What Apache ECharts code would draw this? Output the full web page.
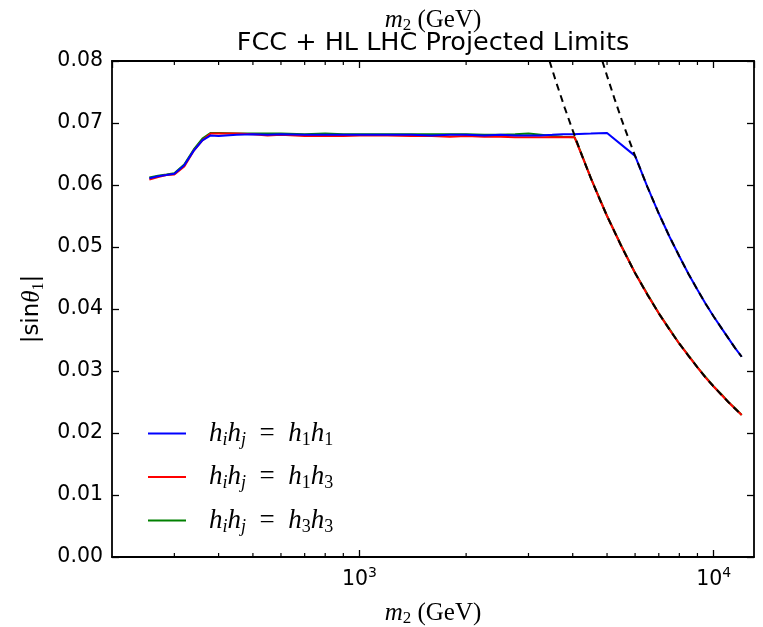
<!DOCTYPE html>
<html><head><meta charset="utf-8">
<script src="https://cdn.jsdelivr.net/npm/echarts@6/dist/echarts.min.js"></script>
<style>html,body{margin:0;padding:0;background:#fff}#c{width:763px;height:627px}</style>
</head><body><div id="c"></div>
<script>
// ---- data ----
const blueM = [255,270,285,300,320,340,360,380,400,450,500,550,600,700,800,900,1000,1200,1400,1600,1800,2000,2250,2500,2750,3000,3250,3500,3750,4000,4500,5000,6000,6500,7000,7500,8000,8500,9000,9500,10000,10500,11000,11500,12000];
const blueV = [0.0611,0.0614,0.0616,0.0618,0.0632,0.0655,0.0672,0.0680,0.0679,0.0681,0.0682,0.0681,0.0682,0.0681,0.0681,0.0681,0.0681,0.0681,0.0681,0.0680,0.0681,0.0681,0.0680,0.0681,0.0680,0.0680,0.0680,0.0681,0.0682,0.0682,0.0683,0.0684,0.0647,0.0597,0.0554,0.0517,0.0485,0.0456,0.0431,0.0408,0.0388,0.0370,0.0353,0.0337,0.0323];
const redM = [255,270,285,300,320,340,360,380,400,450,500,550,600,700,800,900,1000,1200,1400,1600,1800,2000,2250,2500,2750,3000,3250,3500,3750,4050,4250,4500,4750,5000,5500,6000,6500,7000,7500,8000,8500,9000,9500,10000,10500,11000,11500,12000];
const redV = [0.0609,0.0613,0.0616,0.0617,0.0630,0.0655,0.0672,0.0683,0.0683,0.0683,0.0682,0.0680,0.0681,0.0679,0.0679,0.0679,0.0680,0.0680,0.0679,0.0679,0.0678,0.0679,0.0678,0.0678,0.0677,0.0677,0.0677,0.0677,0.0677,0.0677,0.0647,0.0611,0.0579,0.0550,0.0500,0.0458,0.0423,0.0393,0.0367,0.0344,0.0324,0.0306,0.0289,0.0275,0.0262,0.0250,0.0239,0.0229];
const greenM = redM;
const greenV = [0.0612,0.0615,0.0617,0.0619,0.0633,0.0657,0.0675,0.0684,0.0684,0.0683,0.0683,0.0683,0.0683,0.0682,0.0683,0.0682,0.0682,0.0682,0.0682,0.0682,0.0682,0.0682,0.0681,0.0681,0.0682,0.0683,0.0681,0.0679,0.0678,0.0677,0.0648,0.0611,0.0580,0.0550,0.0501,0.0458,0.0424,0.0393,0.0368,0.0344,0.0325,0.0306,0.0290,0.0275,0.0263,0.0250,0.0240,0.0229];
const limitLowM = [3440,3600,3800,4000,4250,4500,4750,5000,5500,6000,6500,7000,7500,8000,8500,9000,9500,10000,10500,11000,11500,12000];
const limitLowV = [0.0800,0.0764,0.0724,0.0688,0.0647,0.0611,0.0579,0.0550,0.0500,0.0458,0.0423,0.0393,0.0367,0.0344,0.0324,0.0306,0.0289,0.0275,0.0262,0.0250,0.0239,0.0229];
const limitHighM = [4850,5000,5250,5500,5750,6000,6500,7000,7500,8000,8500,9000,9500,10000,10500,11000,11500,12000];
const limitHighV = [0.0800,0.0776,0.0739,0.0705,0.0675,0.0647,0.0597,0.0554,0.0517,0.0485,0.0456,0.0431,0.0408,0.0388,0.0370,0.0353,0.0337,0.0323];
const minorTickM = [300,400,500,600,700,800,900,2000,3000,4000,5000,6000,7000,8000,9000];
const seriesNames = ['h1h1','h1h3','h3h3'];
const legendLabels = {
  h1h1: '{i|h}{si|i}{i|h}{si|j}{r|  =  }{i|h}{s|1}{i|h}{s|1}',
  h1h3: '{i|h}{si|i}{i|h}{si|j}{r|  =  }{i|h}{s|1}{i|h}{s|3}',
  h3h3: '{i|h}{si|i}{i|h}{si|j}{r|  =  }{i|h}{s|3}{i|h}{s|3}'
};
const titleText = 'FCC + HL LHC Projected Limits';
const xName = '{i|m}{s|2}{r| (GeV)}';
const yName = '{t||sin}{g|θ}{s|1}{t||}';

// ---- styling ----
const sans = 'DejaVu Sans';
const serif = 'Liberation Serif';
const pair = (ms, vs) => ms.map((m, i) => [m, vs[i]]);
const supRich = {
  b: {fontFamily: sans, fontSize: 20.5, color: '#000'},
  s: {fontFamily: sans, fontSize: 14, color: '#000', padding: [0, 0, 13, 0]}
};
const mathRich = {
  i: {fontFamily: serif, fontStyle: 'italic', fontSize: 27, color: '#000', lineHeight: 32},
  r: {fontFamily: serif, fontSize: 27, color: '#000', lineHeight: 32},
  s: {fontFamily: serif, fontSize: 18, color: '#000', padding: [13, 0, 0, 0]},
  si: {fontFamily: serif, fontStyle: 'italic', fontSize: 18, color: '#000', padding: [13, 0, 0, 0]}
};
const axisNameRich = {
  i: {fontFamily: serif, fontStyle: 'italic', fontSize: 25, color: '#000', lineHeight: 30},
  r: {fontFamily: serif, fontSize: 25, color: '#000', lineHeight: 30},
  s: {fontFamily: serif, fontSize: 17, color: '#000', padding: [12, 0, 0, 0]}
};
const yRich = {
  t: {fontFamily: sans, fontSize: 23, color: '#000', lineHeight: 30},
  g: {fontFamily: serif, fontStyle: 'italic', fontSize: 25, color: '#000', lineHeight: 30},
  s: {fontFamily: serif, fontSize: 16, color: '#000', padding: [12, 0, 0, 0]}
};
const axisLine = {show: true, onZero: false, lineStyle: {color: '#000', width: 1.8}};
const majorTick = {show: true, inside: true, length: 7, lineStyle: {color: '#000', width: 1.3}};
const pow10Label = v => {
  const e = Math.round(Math.log10(v));
  return Math.abs(Math.log10(v) - e) < 1e-6 ? '{b|10}{s|' + e + '}' : '';
};

const lineSeries = (name, data, color) => ({
  name, type: 'line', data, showSymbol: false, symbol: 'none',
  lineStyle: {color, width: 2}, itemStyle: {color}, animation: false, z: 3
});
const dashSeries = (data) => ({
  type: 'line', data, showSymbol: false, symbol: 'none',
  lineStyle: {color: '#000', width: 2, type: [7, 5]}, animation: false, z: 4, silent: true
});

const chart = echarts.init(document.getElementById('c'));
chart.setOption({
  animation: false,
  backgroundColor: '#fff',
  grid: {left: 112, right: 9, top: 61, bottom: 70, containLabel: false, outerBoundsMode: 'none'},
  graphic: [{
    type: 'text', x: 433, y: 30, silent: true,
    style: {text: titleText, fontFamily: sans, fontSize: 25.5, fill: '#000', textAlign: 'center', textVerticalAlign: 'top'}
  }],
  legend: {
    orient: 'vertical', left: 143, top: 415, itemWidth: 38, itemHeight: 2, itemGap: 14.5,
    data: seriesNames.map(n => ({name: n, icon: 'rect'})),
    formatter: n => legendLabels[n],
    textStyle: {rich: mathRich, padding: [0, 0, 0, 18]},
    selectedMode: false
  },
  xAxis: [
    {type: 'log', logBase: 10, min: 200, max: 13000, position: 'bottom',
     axisLine, axisTick: majorTick, splitLine: {show: false}, minorTick: {show: false},
     axisLabel: {formatter: pow10Label, rich: supRich, margin: 9, showMinLabel: false, showMaxLabel: false},
     name: xName, nameLocation: 'middle', nameGap: 41, nameTextStyle: {rich: axisNameRich}},
    {type: 'log', logBase: 10, min: 200, max: 13000, position: 'top',
     axisLine, axisTick: majorTick, splitLine: {show: false}, axisLabel: {show: false},
     name: xName, nameLocation: 'middle', nameGap: 26, nameTextStyle: {rich: axisNameRich}}
  ],
  yAxis: [
    {type: 'value', min: 0, max: 0.08, interval: 0.01, position: 'left',
     axisLine, axisTick: majorTick, splitLine: {show: false},
     axisLabel: {formatter: v => v.toFixed(2), fontFamily: sans, fontSize: 20.5, color: '#000', margin: 9},
     name: yName, nameLocation: 'middle', nameGap: 64, nameRotate: 90, nameTextStyle: {rich: yRich}},
    {type: 'value', min: 0, max: 0.08, interval: 0.01, position: 'right',
     axisLine, axisTick: majorTick, splitLine: {show: false}, axisLabel: {show: false}}
  ],
  series: [
    lineSeries('h3h3', pair(greenM, greenV), '#008000'),
    lineSeries('h1h3', pair(redM, redV), '#ff0000'),
    lineSeries('h1h1', pair(blueM, blueV), '#0000ff'),
    dashSeries(pair(limitLowM, limitLowV)),
    dashSeries(pair(limitHighM, limitHighV)),
    {
      type: 'custom', silent: true, animation: false, z: 5,
      data: minorTickM.map(m => [m, 0]),
      renderItem: (params, api) => {
        const m = api.value(0);
        const b = api.coord([m, 0]);
        const t = api.coord([m, 0.08]);
        return {type: 'group', children: [
          {type: 'line', shape: {x1: b[0], y1: b[1], x2: b[0], y2: b[1] - 4}, style: {stroke: '#000', lineWidth: 1.2}},
          {type: 'line', shape: {x1: t[0], y1: t[1], x2: t[0], y2: t[1] + 4}, style: {stroke: '#000', lineWidth: 1.2}}
        ]};
      }
    }
  ]
});
</script></body></html>
